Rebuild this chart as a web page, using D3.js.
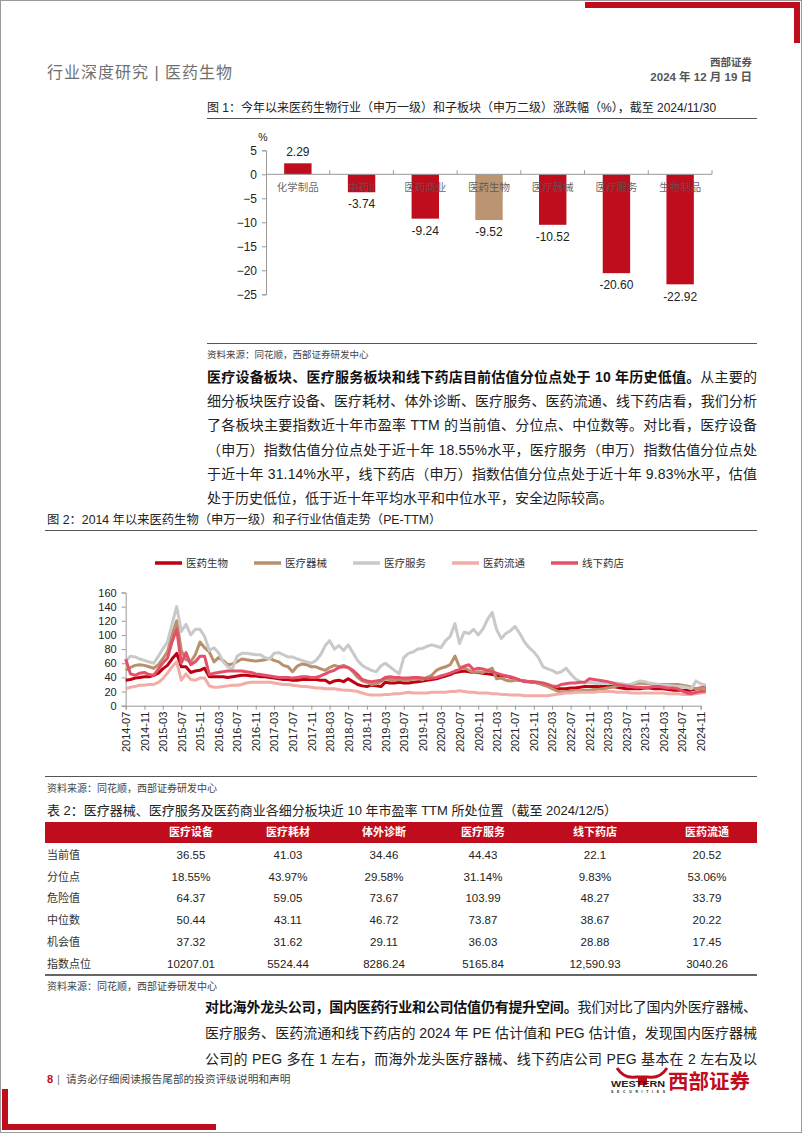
<!DOCTYPE html>
<html><head><meta charset="utf-8">
<script src="https://cdn.jsdelivr.net/npm/d3@7"></script>
<style>
body{margin:0;background:#fff}
svg{display:block}
text{font-family:"Liberation Sans","Noto Sans CJK SC",sans-serif}
</style>
</head><body>
<svg id="page" width="802" height="1133"></svg>
<script>
// ---------------- DATA ----------------
const barCategories = ["化学制品","中药II","医药商业","医药生物","医疗器械","医疗服务","生物制品"];
const barValues = [2.29,-3.74,-9.24,-9.52,-10.52,-20.60,-22.92];
const barHighlight = "医药生物";
const barYTicks = [5,0,-5,-10,-15,-20,-25];

const lineSeriesNames = ["医药生物","医疗器械","医疗服务","医药流通","线下药店"];
const lineYTicks = [0,20,40,60,80,100,120,140,160];
const lineXTickLabels = ["2014-07","2014-11","2015-03","2015-07","2015-11","2016-03","2016-07","2016-11",
 "2017-03","2017-07","2017-11","2018-03","2018-07","2018-11","2019-03","2019-07","2019-11","2020-03",
 "2020-07","2020-11","2021-03","2021-07","2021-11","2022-03","2022-07","2022-11","2023-03","2023-07",
 "2023-11","2024-03","2024-07","2024-11"];
const lineLastDate = "2024-12-05";

const peYiyaoShengwu = [36,37,39,40,41,41,43,46,52,57,66,74,55,55,47,49,50,53,41,41,
 41,41,40,41,42,43,43,42,42,41,41,40,39,38,37,37,36,36,37,37,37,37,36,36,32,35,36,34,38,34,
 30,28,27,29,28,27,33,32,32,33,32,32,33,34,35,36,37,38,40,42,44,47,48,49,48,47,47,46,45,44,
 43,42,42,40,38,36,35,34,33,32,30,28,25,24,24,24,25,25,26,27,27,27,27,27,27,27,26,25,24,24,
 24,24,25,25,24,24,24,23,22,22,22,22,22,24,25,26];
const peYiliaoQixie = [50,54,57,58,57,55,53,58,66,76,100,120,78,65,62,72,90,82,76,62,
 68,64,58,59,62,66,65,64,63,64,65,67,64,62,57,55,48,56,59,58,55,55,52,50,54,57,55,57,54,48,
 40,35,33,30,31,34,38,37,36,37,36,36,38,38,37,40,43,50,53,55,58,70,55,54,50,47,48,47,50,53,
 38,39,36,35,36,36,35,34,33,32,29,27,24,21,19,20,20,21,21,22,22,23,23,24,25,26,28,29,30,30,
 31,32,31,31,30,30,30,30,30,30,29,28,26,24,25,25];
const peYiliaoFuwu = [63,70,69,66,64,62,60,70,80,90,115,140,105,115,100,108,108,98,78,82,
 75,62,55,52,70,74,74,73,72,72,68,66,74,75,72,69,69,66,64,62,60,64,72,85,92,80,85,78,86,75,
 64,57,53,50,48,56,60,55,50,45,68,74,76,80,81,84,86,84,82,92,98,116,88,104,102,108,100,108,122,132,
 108,95,102,106,112,102,90,82,76,68,55,52,50,46,48,53,45,38,34,32,33,32,31,32,31,32,32,31,30,30,
 33,35,34,32,31,30,29,29,28,27,27,26,24,35,31,29];
const peYiyaoLiutong = [24,26,27,29,29,30,30,33,38,46,55,62,36,45,37,36,39,39,28,26,
 26,27,28,29,29,30,32,33,33,33,33,33,32,31,30,30,29,28,27,27,26,25,25,24,24,24,23,22,22,21,
 20,18,16,15,15,15,16,16,17,17,18,19,18,18,18,18,19,19,19,19,20,20,21,20,19,19,18,18,18,17,
 17,16,16,15,15,15,14,14,14,14,14,14,15,16,17,18,18,19,19,19,19,19,20,20,20,20,19,19,19,18,
 18,18,18,18,18,18,18,17,17,17,16,16,16,17,18,19];
const peXianxiaYaodian = [66,45,43,46,47,44,43,52,60,67,90,108,60,75,58,62,70,70,44,46,
 47,48,49,49,49,49,48,47,45,44,43,42,41,40,40,40,39,40,41,41,40,40,42,45,48,50,54,55,54,50,
 44,37,35,34,35,36,40,41,40,40,39,39,40,40,39,38,39,40,42,44,46,49,51,56,58,51,53,52,50,48,
 46,44,42,41,39,36,34,34,34,33,32,30,28,27,30,31,32,32,33,33,38,37,36,35,34,32,30,29,28,27,
 26,26,25,26,27,27,26,25,25,24,21,18,17,19,20,21];

const tableColumns = ["医疗设备","医疗耗材","体外诊断","医疗服务","线下药店","医药流通"];
const tableRowLabels = ["当前值","分位点","危险值","中位数","机会值","指数点位"];
const rowCurrent = ["36.55","41.03","34.46","44.43","22.1","20.52"];
const rowPercentile = ["18.55%","43.97%","29.58%","31.14%","9.83%","53.06%"];
const rowDanger = ["64.37","59.05","73.67","103.99","48.27","33.79"];
const rowMedian = ["50.44","43.11","46.72","73.87","38.67","20.22"];
const rowOpportunity = ["37.32","31.62","29.11","36.03","28.88","17.45"];
const rowIndexLevel = ["10207.01","5524.44","8286.24","5165.84","12,590.93","3040.26"];

// ---------------- PAGE ----------------
const svg = d3.select("#page");
const RED = "#c00d1e";

function txt(x, y, s, o = {}) {
  const t = svg.append("text").attr("x", x).attr("y", y).attr("dy", "0.35em")
    .attr("font-size", o.size || 12).attr("fill", o.fill || "#222")
    .attr("font-weight", o.weight || "normal")
    .attr("text-anchor", o.anchor || "start").text(s);
  if (o.ls) t.attr("letter-spacing", o.ls);
  return t;
}
function justify(t, width) {
  const node = t.node();
  const len = node.getComputedTextLength();
  const n = node.textContent.length;
  if (n > 1) t.attr("letter-spacing", ((width - len) / (n - 1)).toFixed(3));
}

// page frame & corner brackets
svg.append("rect").attr("x", 0.5).attr("y", 0.5).attr("width", 801).attr("height", 1132)
  .attr("fill", "none").attr("stroke", "#9a9a9a").attr("stroke-width", 1);
svg.append("rect").attr("x", 585).attr("y", 2).attr("width", 215).attr("height", 6).attr("fill", RED);
svg.append("rect").attr("x", 794).attr("y", 2).attr("width", 6).attr("height", 41).attr("fill", RED);
svg.append("rect").attr("x", 2).attr("y", 1124).attr("width", 214).attr("height", 6).attr("fill", RED);
svg.append("rect").attr("x", 2).attr("y", 1089).attr("width", 6).attr("height", 41).attr("fill", RED);

// header
txt(47, 72, "行业深度研究 | 医药生物", {size: 16, fill: "#707070", ls: 1});
txt(752, 62, "西部证券", {size: 10.5, fill: "#555", anchor: "end", weight: "bold"});
txt(752, 77, "2024 年 12 月 19 日", {size: 11.5, fill: "#555", anchor: "end", weight: "bold"});

// ---------------- FIGURE 1 ----------------
txt(207, 108, "图 1：今年以来医药生物行业（申万一级）和子板块（申万二级）涨跌幅（%），截至 2024/11/30", {size: 12, fill: "#222"});
svg.append("line").attr("x1", 207).attr("x2", 757).attr("y1", 118.5).attr("y2", 118.5).attr("stroke", "#555").attr("stroke-width", 1);

const bx = d3.scaleBand().domain(barCategories).range([266, 712]).paddingInner(0.57).paddingOuter(0.285);
const by = d3.scaleLinear().domain([-25, 5]).range([294.3, 150.3]);
const g1 = svg.append("g");
const yAx1 = g1.append("g").attr("transform", "translate(266,0)")
  .call(d3.axisLeft(by).tickValues(barYTicks).tickSize(4).tickPadding(5).tickFormat(d3.format("d")));
yAx1.select(".domain").attr("stroke", "#999");
yAx1.selectAll(".tick line").attr("stroke", "#999");
yAx1.selectAll(".tick text").attr("font-size", 12).attr("fill", "#222").attr("font-family", "Liberation Sans");
txt(263, 137, "%", {size: 10.5, fill: "#222", anchor: "middle"});

g1.selectAll(".bar").data(barValues).join("rect")
  .attr("x", (d, i) => bx(barCategories[i]))
  .attr("width", bx.bandwidth())
  .attr("y", d => by(Math.max(0, d)))
  .attr("height", d => Math.abs(by(d) - by(0)))
  .attr("fill", (d, i) => barCategories[i] === barHighlight ? "#bb9471" : RED);

// x axis line with boundary ticks
g1.append("line").attr("x1", 266).attr("x2", 712).attr("y1", by(0)).attr("y2", by(0)).attr("stroke", "#999");
const bounds = barCategories.map(c => bx(c) - bx.step() * bx.paddingInner() / 2).concat([712]);
g1.selectAll(".bt").data(bounds.slice(1)).join("line")
  .attr("x1", d => d).attr("x2", d => d).attr("y1", by(0)).attr("y2", by(0) - 4).attr("stroke", "#999");

// category labels (drawn over bars)
g1.selectAll(".cat").data(barCategories).join("text")
  .attr("x", d => bx(d) + bx.bandwidth() / 2).attr("y", by(0) + 13).attr("dy", "0.35em")
  .attr("text-anchor", "middle").attr("font-size", 10.5).attr("fill", "#555").attr("fill-opacity", 0.9).text(d => d);

g1.selectAll(".val").data(barValues).join("text")
  .attr("x", (d, i) => bx(barCategories[i]) + bx.bandwidth() / 2)
  .attr("y", d => d >= 0 ? by(d) - 12 : by(d) + 12).attr("dy", "0.35em")
  .attr("text-anchor", "middle").attr("font-size", 12).attr("fill", "#222")
  .text(d => d.toFixed(2));

svg.append("line").attr("x1", 207).attr("x2", 757).attr("y1", 343.5).attr("y2", 343.5).attr("stroke", "#555");
txt(207, 355, "资料来源：同花顺，西部证券研发中心", {size: 9.5, fill: "#444"});

// ---------------- PARAGRAPH 1 ----------------
const p1 = [
  ["医疗设备板块、医疗服务板块和线下药店目前估值分位点处于 10 年历史低值。", "从主要的"],
  ["", "细分板块医疗设备、医疗耗材、体外诊断、医疗服务、医药流通、线下药店看，我们分析"],
  ["", "了各板块主要指数近十年市盈率 TTM 的当前值、分位点、中位数等。对比看，医疗设备"],
  ["", "（申万）指数估值分位点处于近十年 18.55%水平，医疗服务（申万）指数估值分位点处"],
  ["", "于近十年 31.14%水平，线下药店（申万）指数估值分位点处于近十年 9.83%水平，估值"],
  ["", "处于历史低位，低于近十年平均水平和中位水平，安全边际较高。"]
];
const p1y = [377, 401.3, 425.5, 449.7, 474, 498.2];
p1.forEach((ln, i) => {
  const t = svg.append("text").attr("x", 207).attr("y", p1y[i]).attr("dy", "0.35em")
    .attr("font-size", 14).attr("fill", "#222");
  if (ln[0]) t.append("tspan").attr("font-weight", "bold").attr("fill", "#111").text(ln[0]);
  t.append("tspan").text(ln[1]);
  if (i < p1.length - 1) justify(t, 550);
});

// ---------------- FIGURE 2 ----------------
txt(47, 520, "图 2：2014 年以来医药生物（申万一级）和子行业估值走势（PE-TTM）", {size: 12.3, fill: "#222"});
svg.append("line").attr("x1", 45).attr("x2", 757).attr("y1", 530.5).attr("y2", 530.5).attr("stroke", "#555");

const lineColors = ["#c00010", "#b8916b", "#c9c9c9", "#f1ada6", "#e4506a"];
const legendX = [155, 254, 353, 452, 551];
lineSeriesNames.forEach((n, i) => {
  svg.append("line").attr("x1", legendX[i]).attr("x2", legendX[i] + 27).attr("y1", 563).attr("y2", 563)
    .attr("stroke", lineColors[i]).attr("stroke-width", 3.5);
  txt(legendX[i] + 31, 563, n, {size: 10.5, fill: "#333"});
});

const parseM = d3.timeParse("%Y-%m");
const tickDates = lineXTickLabels.map(parseM);
const months = d3.timeMonth.range(parseM("2014-07"), parseM("2024-12"));
const dates = months.concat([d3.timeParse("%Y-%m-%d")(lineLastDate)]);
const lx = d3.scaleTime().domain([tickDates[0], tickDates[tickDates.length - 1]]).range([125.7, 700.7]);
const ly = d3.scaleLinear().domain([0, 160]).range([705.7, 592.5]);

const g2 = svg.append("g");
const yAx2 = g2.append("g").attr("transform", "translate(125.7,0)")
  .call(d3.axisLeft(ly).tickValues(lineYTicks).tickSize(4).tickPadding(5));
yAx2.select(".domain").attr("stroke", "#999");
yAx2.selectAll(".tick line").attr("stroke", "#999");
yAx2.selectAll(".tick text").attr("font-size", 11).attr("fill", "#222").attr("font-family", "Liberation Sans");

const xAx2 = g2.append("g").attr("transform", "translate(0,705.7)")
  .call(d3.axisBottom(lx).tickValues(tickDates).tickSize(4).tickFormat(d3.timeFormat("%Y-%m")));
xAx2.select(".domain").attr("stroke", "#999");
xAx2.selectAll(".tick line").attr("stroke", "#999");
xAx2.selectAll(".tick text").attr("font-size", 11).attr("fill", "#222").attr("font-family", "Liberation Sans")
  .attr("text-anchor", "end").attr("transform", "rotate(-90)").attr("x", -6).attr("y", 0).attr("dy", "0.35em");

const seriesData = [peYiyaoShengwu, peYiliaoQixie, peYiliaoFuwu, peYiyaoLiutong, peXianxiaYaodian];
const lineGen = d3.line().x((d, i) => lx(dates[i])).y(d => ly(d)).curve(d3.curveLinear);
seriesData.forEach((s, i) => {
  g2.append("path").datum(s).attr("d", lineGen).attr("fill", "none")
    .attr("stroke", lineColors[i]).attr("stroke-width", 3).attr("stroke-linejoin", "round");
});

svg.append("line").attr("x1", 45).attr("x2", 757).attr("y1", 776.5).attr("y2", 776.5).attr("stroke", "#555");
txt(47, 788, "资料来源：同花顺，西部证券研发中心", {size: 10, fill: "#444"});

// ---------------- TABLE ----------------
txt(47, 810, "表 2：医疗器械、医疗服务及医药商业各细分板块近 10 年市盈率 TTM 所处位置（截至 2024/12/5）", {size: 13, fill: "#222"});
svg.append("rect").attr("x", 45).attr("y", 822).attr("width", 712).attr("height", 21).attr("fill", RED);
const colX = [191, 288, 384, 483, 595, 707];
tableColumns.forEach((c, i) => txt(colX[i], 832.5, c, {size: 11, fill: "#fff", weight: "bold", anchor: "middle"}));
const tableRows = [rowCurrent, rowPercentile, rowDanger, rowMedian, rowOpportunity, rowIndexLevel];
const rowY = [855, 876.7, 898.3, 920, 942, 964];
tableRows.forEach((r, ri) => {
  txt(47, rowY[ri], tableRowLabels[ri], {size: 11, fill: "#333"});
  r.forEach((v, ci) => txt(colX[ci], rowY[ri], v, {size: 11.5, fill: "#222", anchor: "middle"}));
});
svg.append("line").attr("x1", 45).attr("x2", 757).attr("y1", 975).attr("y2", 975).attr("stroke", "#333").attr("stroke-width", 1.5);
txt(47, 986, "资料来源：同花顺，西部证券研发中心", {size: 10, fill: "#444"});

// ---------------- PARAGRAPH 2 ----------------
const p2 = [
  ["对比海外龙头公司，国内医药行业和公司估值仍有提升空间。", "我们对比了国内外医疗器械、"],
  ["", "医疗服务、医药流通和线下药店的 2024 年 PE 估计值和 PEG 估计值，发现国内医疗器械"],
  ["", "公司的 PEG 多在 1 左右，而海外龙头医疗器械、线下药店公司 PEG 基本在 2 左右及以"]
];
const p2y = [1007, 1033.3, 1059];
p2.forEach((ln, i) => {
  const t = svg.append("text").attr("x", 205).attr("y", p2y[i]).attr("dy", "0.35em")
    .attr("font-size", 14).attr("fill", "#222");
  if (ln[0]) t.append("tspan").attr("font-weight", "bold").attr("fill", "#111").text(ln[0]);
  t.append("tspan").text(ln[1]);
  justify(t, 552);
});

// ---------------- FOOTER ----------------
txt(47, 1079, "8", {size: 11, fill: RED, weight: "bold"});
txt(57, 1079, "|", {size: 11, fill: "#777"});
txt(66, 1079, "请务必仔细阅读报告尾部的投资评级说明和声明", {size: 10.7, fill: "#444"});
// logo
svg.append("path").attr("d", "M617 1068 Q624 1079 636 1077 L648 1077 Q660 1079 667 1068")
  .attr("fill", "none").attr("stroke", RED).attr("stroke-width", 3);
svg.append("rect").attr("x", 638).attr("y", 1076).attr("width", 9).attr("height", 9).attr("fill", RED);
svg.append("text").attr("x", 611).attr("y", 1087).attr("font-size", 9.5).attr("font-weight", "bold")
  .attr("fill", "#222").attr("textLength", 54).attr("lengthAdjust", "spacingAndGlyphs").text("WESTERN");
svg.append("text").attr("x", 611).attr("y", 1093).attr("font-size", 3.5).attr("font-weight", "bold")
  .attr("fill", "#222").attr("textLength", 54).attr("lengthAdjust", "spacing").text("SECURITIES");
txt(668, 1082, "西部证券", {size: 20.5, fill: RED, weight: "bold"});
</script>
</body></html>
